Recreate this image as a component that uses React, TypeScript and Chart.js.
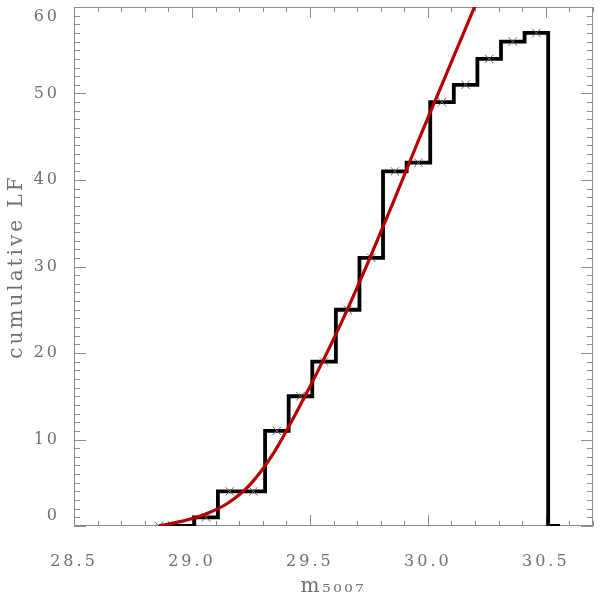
import React, { useEffect, useRef } from 'react';
import { Chart, registerables } from 'chart.js';

Chart.register(...registerables);

// ---- data ----
const startMag = 28.86;
const endMag = 30.56;
const binWidth = 0.1;
const binCenters = [29.06, 29.16, 29.26, 29.36, 29.46, 29.56, 29.66, 29.76, 29.86, 29.96, 30.06, 30.16, 30.26, 30.36, 30.46];
const cumCounts = [1, 4, 4, 11, 15, 19, 25, 31, 41, 42, 49, 51, 54, 56, 57];

const fitMags = [28.86, 28.95, 29.05, 29.15, 29.25, 29.35, 29.45, 29.55, 29.65, 29.75, 29.85, 29.95, 30.05, 30.15, 30.21];
const fitCounts = [0, 0.5, 1.3, 2.6, 4.9, 8.6, 13.5, 18.8, 24.5, 30.7, 37.2, 43.9, 50.4, 56.9, 60.8];

const xTickValues = [28.5, 29.0, 29.5, 30.0, 30.5];
const yTickValues = [0, 10, 20, 30, 40, 50, 60];
const xMin = 28.5;
const xMax = 30.7;
const yMin = 0;
const yMax = 60;

const FONT = 'DejaVu Serif';
const TEXT = '#707070';
const AXIS = '#8c8c8c';

const stepPoints = [
  { x: startMag, y: 0 },
  ...binCenters.map((c, i) => ({ x: c - binWidth / 2, y: cumCounts[i] })),
  { x: binCenters[binCenters.length - 1] + binWidth / 2, y: 0 },
  { x: endMag, y: 0 },
];
const crossPoints = [{ x: startMag, y: 0 }, ...binCenters.map((c, i) => ({ x: c, y: cumCounts[i] }))];
const fitPoints = fitMags.map((m, i) => ({ x: m, y: fitCounts[i] }));

const spacingPlugin = {
  id: 'spacing',
  beforeUpdate(chart: any) {
    chart.ctx.letterSpacing = '3px';
  },
  beforeDraw(chart: any) {
    chart.ctx.letterSpacing = '3px';
  },
};

const framePlugin = {
  id: 'frame',
  beforeDatasetsDraw(chart: any) {
    const { ctx, chartArea: a, scales } = chart;
    const xs = scales.x;
    const ys = scales.y;
    ctx.save();
    ctx.strokeStyle = AXIS;
    ctx.lineWidth = 1;
    ctx.beginPath();
    ctx.rect(a.left + 0.5, a.top + 0.5, a.right - a.left - 1, a.bottom - a.top - 1);
    for (let k = 0; k <= Math.round((xMax - xMin) * 10); k++) {
      const v = xMin + k * 0.1;
      const px = Math.round(xs.getPixelForValue(v)) + 0.5;
      const major = k % 5 === 0;
      const len = major ? 11 : 5;
      ctx.moveTo(px, a.bottom);
      ctx.lineTo(px, a.bottom - len);
      ctx.moveTo(px, a.top);
      ctx.lineTo(px, a.top + len);
    }
    for (let v = yMin; v <= yMax; v++) {
      const py = Math.round(ys.getPixelForValue(v)) + 0.5;
      const major = v % 10 === 0;
      const len = major ? 12 : 6;
      ctx.moveTo(a.left, py);
      ctx.lineTo(a.left + len, py);
      ctx.moveTo(a.right, py);
      ctx.lineTo(a.right - len, py);
    }
    ctx.stroke();
    ctx.restore();
  },
};

export default function App() {
  const ref = useRef<HTMLCanvasElement | null>(null);
  useEffect(() => {
    if (!ref.current) return;
    const chart = new Chart(ref.current, {
      type: 'scatter',
      data: {
        datasets: [
          {
            label: 'fit',
            data: fitPoints,
            showLine: true,
            borderColor: '#b40000',
            borderWidth: 3.2,
            pointRadius: 0,
            cubicInterpolationMode: 'monotone',
            clip: 0,
            order: 0,
          } as any,
          {
            label: 'points',
            data: crossPoints,
            showLine: false,
            pointStyle: 'crossRot',
            pointRadius: 6,
            borderColor: '#666666',
            borderWidth: 1,
            order: 1,
          } as any,
          {
            label: 'cumulative',
            data: stepPoints,
            showLine: true,
            stepped: 'before',
            borderColor: '#000000',
            borderWidth: 3.8,
            borderJoinStyle: 'miter',
            pointRadius: 0,
            order: 2,
          } as any,
        ],
      },
      options: {
        animation: false,
        responsive: false,
        events: [],
        layout: { padding: { top: 5, right: 5, left: 0, bottom: 0 } },
        plugins: { legend: { display: false }, tooltip: { enabled: false } },
        scales: {
          x: {
            type: 'linear',
            min: xMin,
            max: xMax,
            grid: { display: false },
            border: { display: false },
            afterBuildTicks: (s: any) => {
              s.ticks = xTickValues.map((v) => ({ value: v }));
            },
            afterFit: (s: any) => {
              s.height = 71;
              s.paddingLeft = 0;
              s.paddingRight = 0;
            },
            ticks: {
              autoSkip: false,
              maxRotation: 0,
              padding: 18,
              color: TEXT,
              font: { family: FONT, size: 16 },
              callback: (v: any) => Number(v).toFixed(1),
            },
            title: {
              display: true,
              text: 'm₅₀₀₇',
              color: TEXT,
              font: { family: FONT, size: 20, lineHeight: 1.0 },
              padding: { top: 0, bottom: 0 },
            },
          },
          y: {
            type: 'linear',
            min: yMin,
            max: yMax,
            grid: { display: false },
            border: { display: false },
            afterBuildTicks: (s: any) => {
              s.ticks = yTickValues.map((v) => ({ value: v }));
            },
            afterFit: (s: any) => {
              s.width = 74;
              s.paddingTop = 0;
              s.paddingBottom = 0;
            },
            ticks: {
              autoSkip: false,
              padding: 6,
              color: TEXT,
              font: { family: FONT, size: 16, lineHeight: 1.25 },
              callback: (v: any) => (v === yMax ? ['', String(v)] : v === yMin ? [String(v), ''] : String(v)),
            },
            title: {
              display: true,
              text: 'cumulative LF',
              color: TEXT,
              font: { family: FONT, size: 20 },
              padding: { top: 5, bottom: 0 },
            },
          },
        },
      },
      plugins: [spacingPlugin, framePlugin],
    });
    return () => chart.destroy();
  }, []);
  return (
    <div style={{ position: 'absolute', left: 0, top: 0, width: 600, height: 597, background: '#fff' }}>
      <canvas ref={ref} width={600} height={597} style={{ display: 'block' }} />
    </div>
  );
}
